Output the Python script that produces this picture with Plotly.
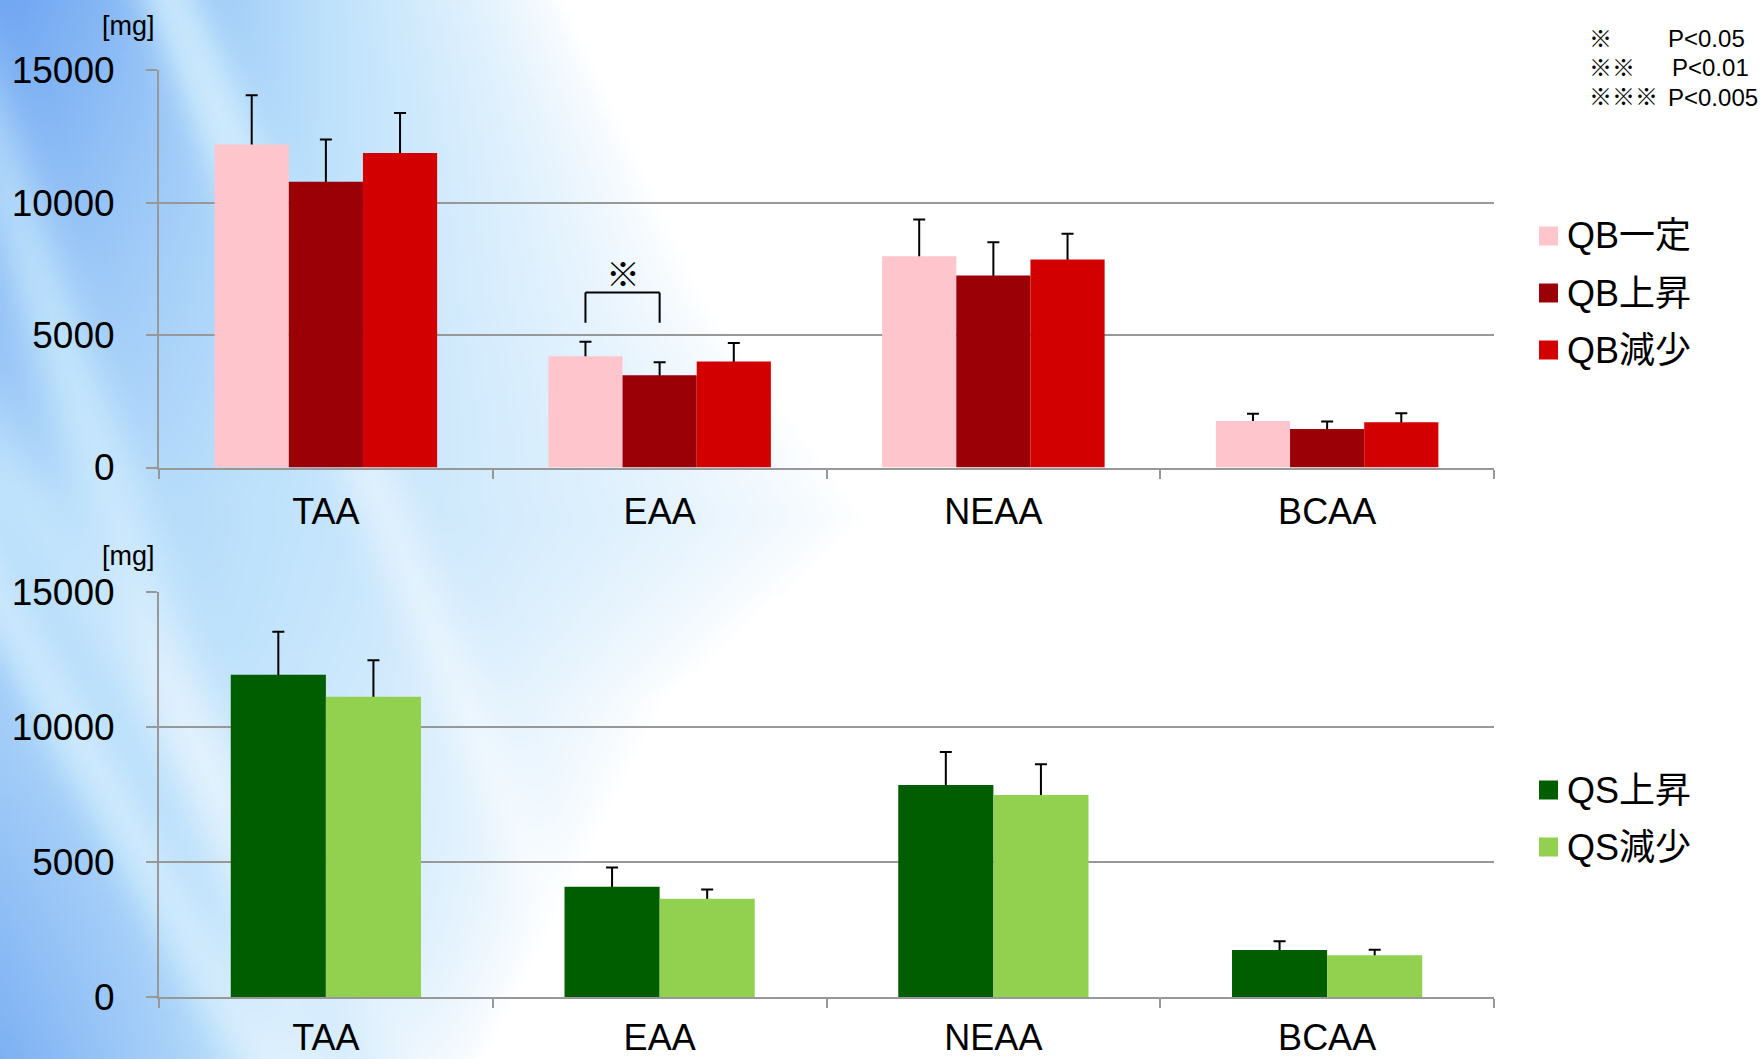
import base64
import struct
import zlib

import numpy as np
import plotly.graph_objects as go

# ---------------------------------------------------------------- data
categories = ["TAA", "EAA", "NEAA", "BCAA"]

qb_names = ["QB一定", "QB上昇", "QB減少"]
qb_means = [
    [12200, 4200, 7980, 1760],
    [10790, 3485, 7250, 1450],
    [11880, 4000, 7850, 1710],
]
qb_sd = [
    [1860, 550, 1385, 265],
    [1600, 490, 1255, 285],
    [1510, 705, 980, 340],
]

qs_names = ["QS上昇", "QS減少"]
qs_means = [
    [11930, 4080, 7850, 1740],
    [11115, 3640, 7480, 1545],
]
qs_sd = [
    [1590, 715, 1220, 320],
    [1350, 335, 1135, 207],
]

y_ticks = [0, 5000, 10000, 15000]
unit_label = "[mg]"
sig_marks = ["※", "※※", "※※※"]
sig_levels = ["P<0.05", "P<0.01", "P<0.005"]

# ---------------------------------------------------------------- style
qb_colors = ["#FFC5CC", "#9C0007", "#D20000"]
qs_colors = ["#005E00", "#92D050"]
GRID = "#989898"
FONT = "Liberation Sans, Arial, Noto Sans CJK JP, sans-serif"
W_PX, H_PX = 1760, 1059
Y_MAX = 15010  # a hair above the top tick so its grid line is kept


def px(x):
    return x / W_PX


def py(y):
    return 1 - y / H_PX


# ---------------------------------------------------------------- backdrop
def png_data_uri(rgb):
    h, w, _ = rgb.shape
    raw = b"".join(b"\x00" + rgb[r].tobytes() for r in range(h))

    def chunk(tag, data):
        c = struct.pack(">I", len(data)) + tag + data
        return c + struct.pack(">I", zlib.crc32(tag + data) & 0xFFFFFFFF)

    png = (b"\x89PNG\r\n\x1a\n"
           + chunk(b"IHDR", struct.pack(">IIBBBBB", w, h, 8, 2, 0, 0, 0))
           + chunk(b"IDAT", zlib.compress(raw, 9))
           + chunk(b"IEND", b""))
    return "data:image/png;base64," + base64.b64encode(png).decode()


def backdrop():
    gw, gh = 440, 265
    xs = (np.arange(gw) + 0.5) * W_PX / gw
    ys = (np.arange(gh) + 0.5) * H_PX / gh
    X, Y = np.meshgrid(xs, ys)
    edge = np.interp(Y, [0, 300, 520, 700, 1059], [560, 700, 860, 660, 480])
    amp = np.interp(Y, [0, 250, 500, 750, 1059], [1.0, 0.82, 0.66, 0.68, 0.9])
    b = np.clip(1 - X / edge, 0, 1) ** 0.8 * amp

    def streak(x0, y0, x1, y1, sigma):
        dx, dy = x1 - x0, y1 - y0
        d = np.abs((X - x0) * dy - (Y - y0) * dx) / np.hypot(dx, dy)
        return np.exp(-(d / sigma) ** 2)

    light = (0.40 * streak(170, 0, 430, 620, 30)
             + 0.30 * streak(0, 170, 120, 520, 35)
             + 0.35 * streak(0, 600, 260, 1059, 30)
             + 0.25 * streak(60, 560, 420, 1059, 45))
    b = np.clip(b * (1 - np.clip(light, 0, 0.8)), 0, 1)

    white = np.array([255, 255, 255], dtype=float)
    pale = np.array([190, 226, 252], dtype=float)
    deep = np.array([110, 165, 242], dtype=float)
    t1 = np.clip(b / 0.5, 0, 1)[..., None]
    t2 = np.clip((b - 0.5) / 0.5, 0, 1)[..., None]
    rgb = white * (1 - t1) + pale * t1
    rgb = rgb * (1 - t2) + deep * t2
    return png_data_uri(np.clip(rgb, 0, 255).astype(np.uint8))


# ---------------------------------------------------------------- figure
fig = go.Figure()
SHOE = 200  # keeps the lower cap of each whisker hidden inside its bar


def add_group(names, means, sds, colors, width, base_axes, bar_axes):
    n = len(names)
    for k in range(n):
        off = (k - n / 2) * width
        # whiskers, drawn underneath the bars
        fig.add_trace(go.Bar(
            x=categories, y=means[k], width=width, offset=off,
            marker=dict(color="rgba(0,0,0,0)", line_width=0),
            error_y=dict(type="data", symmetric=False, array=sds[k],
                         arrayminus=[SHOE] * len(categories),
                         color="black", thickness=2, width=6),
            xaxis=base_axes[0], yaxis=base_axes[1], showlegend=False, hoverinfo="skip",
        ))
        fig.add_trace(go.Bar(
            x=categories, y=means[k], width=width, offset=off, name=names[k],
            marker=dict(color=colors[k], line_width=0),
            xaxis=bar_axes[0], yaxis=bar_axes[1], showlegend=False,
        ))


top_w = (1 - 1 / 3) / len(qb_names)
bot_w = (1 - 0.43) / len(qs_names)
add_group(qb_names, qb_means, qb_sd, qb_colors, top_w, ("x", "y"), ("x", "y3"))
add_group(qs_names, qs_means, qs_sd, qs_colors, bot_w, ("x2", "y2"), ("x2", "y4"))

x_dom = [px(159), px(1494)]
top_dom = [py(467.5), py(70)]
bot_dom = [py(997), py(591.5)]

tick_font = dict(family=FONT, size=37, color="black")
xcommon = dict(
    type="category", categoryorder="array", categoryarray=categories,
    range=[-0.5, len(categories) - 0.5], domain=x_dom, automargin=False,
    showline=True, linecolor=GRID, linewidth=2,
    ticks="outside", tickson="boundaries", ticklen=9, tickwidth=2, tickcolor=GRID,
    tickfont=dict(tick_font, size=36), showgrid=False, zeroline=False,
)
ycommon = dict(
    range=[0, Y_MAX], tickvals=y_ticks, ticktext=[str(v) for v in y_ticks],
    showgrid=True, gridcolor=GRID, gridwidth=2, automargin=False,
    showline=True, linecolor=GRID, linewidth=2, ticks="outside", ticklen=11,
    tickwidth=2, tickcolor=GRID, tickfont=tick_font, ticklabelstandoff=24,
    zeroline=False,
)
hidden = dict(range=[0, Y_MAX], visible=False, showgrid=False, zeroline=False,
              automargin=False)

fig.update_layout(
    width=W_PX, height=H_PX, margin=dict(l=0, r=0, t=0, b=0, pad=0, autoexpand=False),
    paper_bgcolor="white", plot_bgcolor="rgba(0,0,0,0)",
    barmode="group", bargap=1 / 3, showlegend=False,
    font=dict(family=FONT, color="black"),
    xaxis=dict(xcommon, anchor="y", ticklabelstandoff=11),
    xaxis2=dict(xcommon, anchor="y2", ticklabelstandoff=8),
    yaxis=dict(ycommon, domain=top_dom, anchor="x"),
    yaxis2=dict(ycommon, domain=bot_dom, anchor="x2"),
    yaxis3=dict(hidden, overlaying="y", anchor="x"),
    yaxis4=dict(hidden, overlaying="y2", anchor="x2"),
    images=[dict(source=backdrop(), xref="paper", yref="paper", x=0, y=1,
                 sizex=1, sizey=1, sizing="stretch", layer="below")],
)

# unit labels
for yc in (26, 556):
    fig.add_annotation(text=unit_label, xref="paper", yref="paper", x=px(128), y=py(yc),
                       xanchor="center", yanchor="middle", showarrow=False,
                       font=dict(size=27))


# custom legends
def legend_block(names, colors, y_centers):
    for name, col, yc in zip(names, colors, y_centers):
        fig.add_shape(type="rect", xref="paper", yref="paper",
                      x0=px(1539), x1=px(1558), y0=py(yc - 9.5), y1=py(yc + 9.5),
                      fillcolor=col, line_width=0)
        fig.add_annotation(text=name, xref="paper", yref="paper", x=px(1565), y=py(yc),
                           xanchor="left", yanchor="middle", showarrow=False,
                           font=dict(size=36))


legend_block(qb_names, qb_colors, [236, 293, 350])
legend_block(qs_names, qs_colors, [790, 847])

# significance key
for mark, level, yc, xl in zip(sig_marks, sig_levels, [39, 68, 97], [1666, 1670, 1666]):
    fig.add_annotation(text=mark, xref="paper", yref="paper", x=px(1587), y=py(yc),
                       xanchor="left", yanchor="middle", showarrow=False, font=dict(size=23))
    fig.add_annotation(text=level, xref="paper", yref="paper", x=px(xl), y=py(yc),
                       xanchor="left", yanchor="middle", showarrow=False, font=dict(size=24))

# significance bracket: QB一定 vs QB上昇 on EAA
ci = categories.index("EAA")
n = len(qb_names)
xa = ci + (0 - n / 2) * top_w + top_w / 2
xb = ci + (1 - n / 2) * top_w + top_w / 2
y_lo, y_hi = 5470, 6610
for x0, y0, x1, y1 in [(xa, y_lo, xa, y_hi), (xa, y_hi, xb, y_hi), (xb, y_hi, xb, y_lo)]:
    fig.add_shape(type="line", xref="x", yref="y3", x0=x0, y0=y0, x1=x1, y1=y1,
                  line=dict(color="black", width=2))
fig.add_annotation(text=sig_marks[0], xref="x", yref="y3", x=(xa + xb) / 2, y=7280,
                   xanchor="center", yanchor="middle", showarrow=False, font=dict(size=34))

fig.write_html("out.html")
